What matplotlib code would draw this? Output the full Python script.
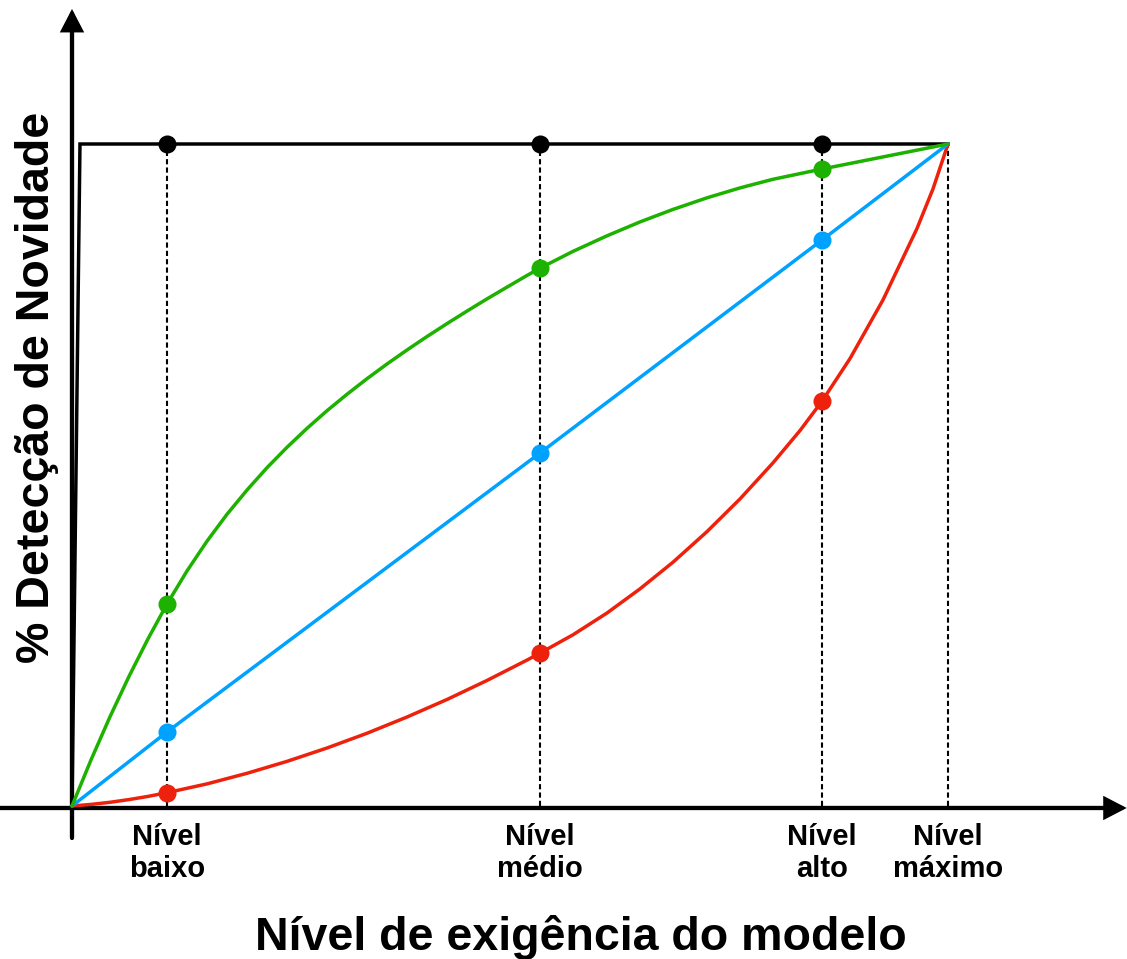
import matplotlib.pyplot as plt

# níveis de exigência (% do nível máximo) e rótulos
levels = [10.84, 53.42, 85.62, 100]
level_labels = ['Nível\nbaixo', 'Nível\nmédio', 'Nível\nalto', 'Nível\nmáximo']

# curvas (x = exigência %, y = detecção %)
green_x = [0, 2.17, 4.34, 6.51, 8.68, 10.84, 13.13, 15.41, 17.69, 19.98, 22.26, 24.54,
	26.83, 29.11, 31.39, 33.68, 35.96, 38.24, 40.53, 42.81, 45.09, 47.37, 49.66,
	51.94, 53.42, 57.19, 61.07, 64.84, 68.61, 72.49, 76.26, 80.02, 85.62, 92.81, 100]
green_y = [0, 6.96, 13.49, 19.59, 25.26, 30.50, 35.51, 40.00, 44.06, 47.73, 51.10, 54.18,
	57.05, 59.71, 62.19, 64.55, 66.77, 68.88, 70.92, 72.87, 74.76, 76.60, 78.38,
	80.14, 81.24, 83.78, 86.13, 88.23, 90.12, 91.87, 93.37, 94.67, 96.22, 98.11, 100]

blue_x = [0, 10.84, 53.42, 85.62, 100]
blue_y = [0, 11.18, 53.32, 85.50, 100]

red_x = [0, 2.17, 4.34, 6.51, 8.68, 10.84, 15.41, 19.98, 24.54, 29.11, 33.68, 38.24,
	42.81, 47.37, 51.94, 53.42, 57.19, 61.07, 64.84, 68.61, 72.49, 76.26, 80.02,
	83.11, 85.62, 88.81, 92.58, 96.46, 98.29, 100]
red_y = [0, 0.24, 0.56, 0.97, 1.45, 2.01, 3.34, 4.94, 6.74, 8.76, 10.99, 13.44,
	16.09, 18.96, 22.04, 23.09, 25.86, 29.15, 32.80, 36.83, 41.45, 46.39, 51.83,
	56.72, 61.15, 67.58, 76.45, 87.24, 93.23, 100]

black_x = [0, 0.91, 100]
black_y = [0, 100, 100]

# valores marcados em cada nível
green_pts = [30.50, 81.24, 96.22]
blue_pts = [11.18, 53.32, 85.50]
red_pts = [2.01, 23.09, 61.15]
black_pts = [100, 100, 100]

GREEN = '#1DB100'
BLUE = '#00A2FF'
RED = '#EE220C'

plt.rcParams['font.family'] = ['Liberation Sans', 'DejaVu Sans']
plt.rcParams['font.weight'] = 'bold'

fig = plt.figure(figsize=(11.27, 9.59), dpi=100)
ax = fig.add_axes([72 / 1127, 153 / 959, 876 / 1127, 662 / 959])
ax.set_xlim(0, 100)
ax.set_ylim(0, 100)
ax.axis('off')

# linhas pontilhadas verticais
for lx in levels:
	ax.plot([lx, lx], [0, 100], color='black', lw=1.5, dashes=(2.5, 1.5), zorder=1, clip_on=False)

# eixos com setas
arrow = dict(arrowstyle='-|>,head_length=0.5,head_width=0.26', lw=3.1, color='black',
	mutation_scale=24, shrinkA=0, shrinkB=0, joinstyle='miter')
ax.annotate('', xy=(0, 120.4), xytext=(0, -4.83), annotation_clip=False, arrowprops=arrow)
ax.annotate('', xy=(120.4, -0.3), xytext=(-8.2, -0.3), annotation_clip=False, arrowprops=arrow)

ax.plot(black_x, black_y, color='black', lw=2.5, zorder=3, clip_on=False, solid_joinstyle='miter')
line_style = dict(lw=2.5, zorder=4, clip_on=False, solid_joinstyle='round', solid_capstyle='round')
ax.plot(red_x, red_y, color=RED, **line_style)
ax.plot(blue_x, blue_y, color=BLUE, **line_style)
ax.plot(green_x, green_y, color=GREEN, **line_style)

for pts, color in zip([black_pts, green_pts, blue_pts, red_pts], ['black', GREEN, BLUE, RED]):
	ax.plot(levels[:3], pts, 'o', color=color, ms=13, mew=0, zorder=5, clip_on=False)

for lx, lab in zip(levels, level_labels):
	ax.text(lx, -7.1, lab, ha='center', va='center', fontsize=21, fontweight='bold', linespacing=1.15)

fig.text(581 / 1127, 1 - 950 / 959, 'Nível de exigência do modelo', ha='center', va='baseline',
	fontsize=33.5, fontweight='bold')
fig.text(37 / 1127, 1 - 387 / 959, '% Detecção de Novidade', ha='center', va='center',
	rotation=90, fontsize=33.5, fontweight='bold')

fig.savefig('out.png', dpi=100)
